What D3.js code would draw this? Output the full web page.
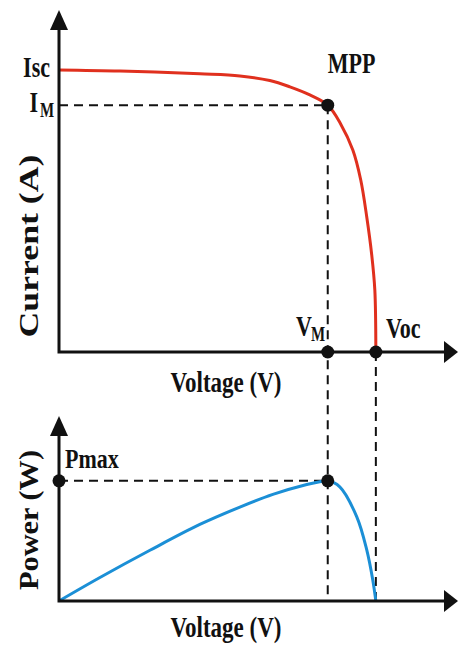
<!DOCTYPE html>
<html>
<head>
<meta charset="utf-8">
<script src="https://cdn.jsdelivr.net/npm/d3@7"></script>
<style>
  body { margin: 0; background: #fff; }
  text { font-family: "Liberation Serif", "Times New Roman", serif; font-weight: bold; fill: #111; }
</style>
</head>
<body>
<div id="chart"></div>
<script>
// I-V curve (voltage in V, current in A)
const ivVoltage = [0, 4.16, 9.6, 12.33, 14.37, 15.74, 17.1, 18.32, 19.2, 20.03, 20.57, 20.98, 21.32, 21.53, 21.6];
const ivCurrent = [8.0, 7.97, 7.89, 7.83, 7.70, 7.52, 7.29, 7.0, 6.47, 5.73, 4.88, 3.83, 2.75, 1.76, 0];

// P-V curve (voltage in V, power in W)
const pvVoltage = [0, 2.79, 6.2, 9.6, 12.33, 14.58, 16.89, 17.78, 18.32, 19.14, 20.3, 20.98, 21.39, 21.6];
const pvPower = [0, 25, 54, 81.5, 100, 113.5, 124, 127, 128, 121.6, 89.6, 54.4, 22.4, 0];

// key points
const Isc = 8.0, Im = 7.0, Vm = 18.32, Voc = 21.6, Pmax = 128;

const width = 460, height = 645;

const svg = d3.select("#chart")
  .append("svg")
  .attr("width", width)
  .attr("height", height);

// shared voltage scale, one y scale per panel
const x = d3.scaleLinear().domain([0, 27.2]).range([59, 458]);
const yI = d3.scaleLinear().domain([0, 9.7]).range([352, 10]);
const yP = d3.scaleLinear().domain([0, 197]).range([601, 416]);

const red = "#e0301e", blue = "#1b8fd6";

// dashed guide lines
const dash = svg.append("g")
  .attr("stroke", "#111")
  .attr("stroke-width", 2)
  .attr("stroke-dasharray", "9,6")
  .attr("fill", "none");
dash.append("line").attr("x1", x(0)).attr("x2", x(Vm)).attr("y1", yI(Im)).attr("y2", yI(Im));
dash.append("line").attr("x1", x(Vm)).attr("x2", x(Vm)).attr("y1", yI(Im)).attr("y2", yP(0));
dash.append("line").attr("x1", x(Voc)).attr("x2", x(Voc)).attr("y1", yI(0)).attr("y2", yP(0));
dash.append("line").attr("x1", x(0)).attr("x2", x(Vm)).attr("y1", yP(Pmax)).attr("y2", yP(Pmax));

// curves
const ivLine = d3.line()
  .x(d => x(d[0]))
  .y(d => yI(d[1]))
  .curve(d3.curveCatmullRom.alpha(0.5));
svg.append("path")
  .datum(d3.zip(ivVoltage, ivCurrent))
  .attr("d", ivLine)
  .attr("fill", "none")
  .attr("stroke", red)
  .attr("stroke-width", 3);

const pvLine = d3.line()
  .x(d => x(d[0]))
  .y(d => yP(d[1]))
  .curve(d3.curveCatmullRom.alpha(0.5));
svg.append("path")
  .datum(d3.zip(pvVoltage, pvPower))
  .attr("d", pvLine)
  .attr("fill", "none")
  .attr("stroke", blue)
  .attr("stroke-width", 3);

// axes with arrow heads
function drawAxes(ys) {
  const x0 = x(0), y0 = ys(0);
  const xEnd = x.range()[1], yEnd = ys.range()[1];
  svg.append("path")
    .attr("d", `M${x0},${yEnd + 18}V${y0}H${xEnd - 13}`)
    .attr("fill", "none")
    .attr("stroke", "#111")
    .attr("stroke-width", 3);
  svg.append("path")
    .attr("d", `M${x0},${yEnd}L${x0 - 9},${yEnd + 20}L${x0 + 9},${yEnd + 20}Z`)
    .attr("fill", "#111");
  svg.append("path")
    .attr("d", `M${xEnd},${y0}L${xEnd - 14},${y0 - 11}L${xEnd - 14},${y0 + 11}Z`)
    .attr("fill", "#111");
}
drawAxes(yI);
drawAxes(yP);

// dots
const dots = [[Vm, yI(Im)], [Vm, yI(0)], [Voc, yI(0)], [0, yP(Pmax)], [Vm, yP(Pmax)]];
svg.selectAll("circle.dot")
  .data(dots)
  .join("circle")
  .attr("class", "dot")
  .attr("cx", d => x(d[0]))
  .attr("cy", d => d[1])
  .attr("r", 6.5)
  .attr("fill", "#111");

// text helper: stretched vertically like the picture
function label(txt, px, py, size, anchor, sy) {
  return svg.append("text")
    .attr("transform", `translate(${px},${py}) scale(1,${sy})`)
    .attr("text-anchor", anchor)
    .style("font-size", size + "px")
    .text(txt);
}

label("Isc", 50, yI(Isc) + 7, 22, "end", 1.35);
label("I", 38, yI(Im) + 7, 22, "end", 1.35);
label("M", 40, yI(Im) + 12, 15, "start", 1.35);
label("MPP", x(Vm), 73, 22, "start", 1.35);
label("V", 296, 336, 22, "start", 1.35);
label("M", 311, 341, 15, "start", 1.35);
label("Voc", 386, 338, 22, "start", 1.35);
label("Pmax", 65, 468, 22, "start", 1.2);
label("Voltage (V)", 226, 392, 23, "middle", 1.3);
label("Voltage (V)", 226, 637, 23, "middle", 1.3);

// rotated axis titles
svg.append("text")
  .attr("transform", "translate(38,246) rotate(-90)")
  .attr("text-anchor", "middle")
  .attr("textLength", 183)
  .attr("lengthAdjust", "spacingAndGlyphs")
  .style("font-size", "28px")
  .text("Current (A)");
svg.append("text")
  .attr("transform", "translate(38,520) rotate(-90)")
  .attr("text-anchor", "middle")
  .attr("textLength", 140)
  .attr("lengthAdjust", "spacingAndGlyphs")
  .style("font-size", "28px")
  .text("Power (W)");
</script>
</body>
</html>
